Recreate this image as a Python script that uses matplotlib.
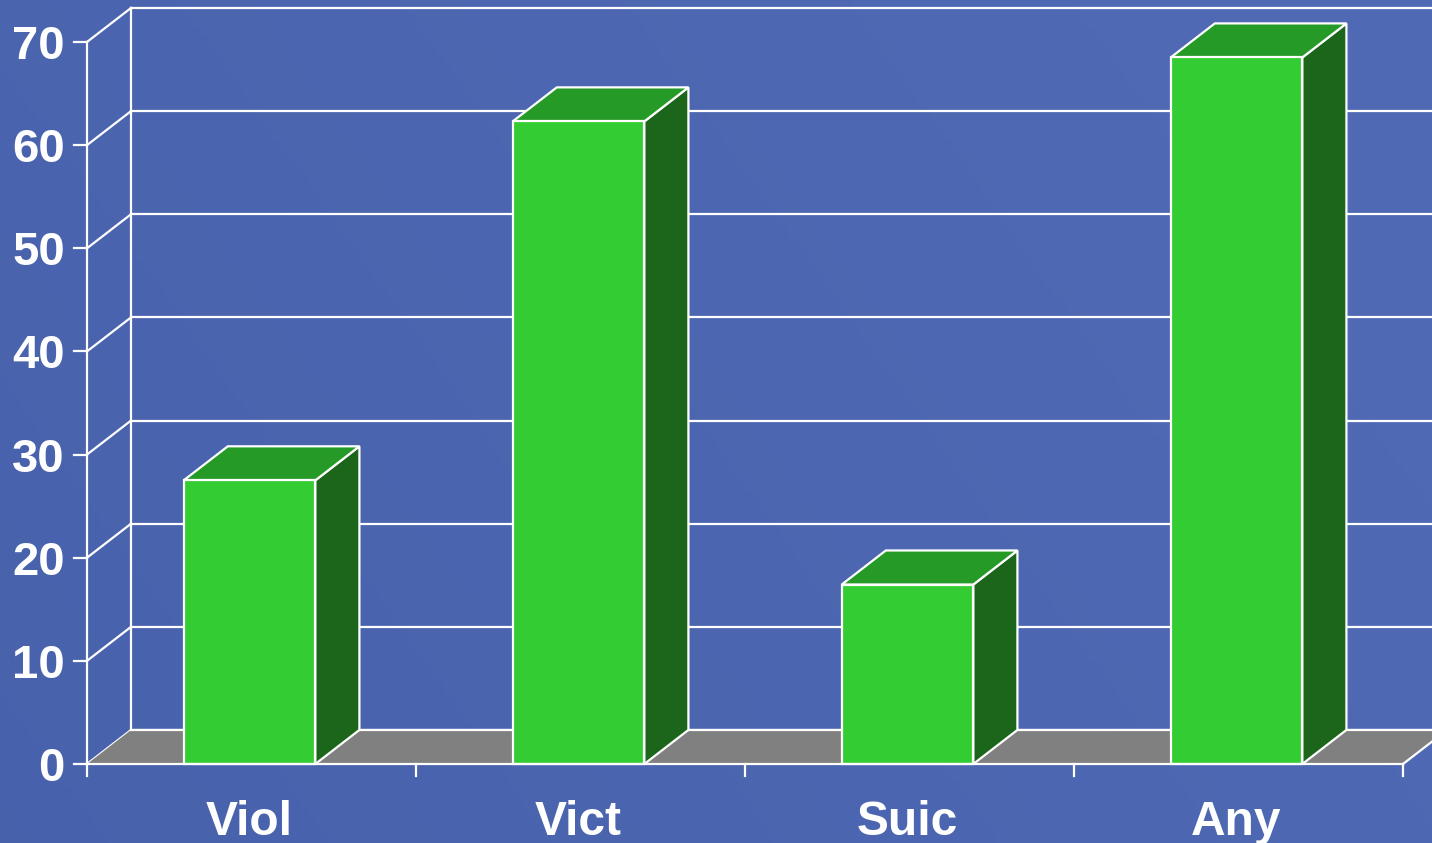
import numpy as np
import matplotlib
matplotlib.use("Agg")
import matplotlib.pyplot as plt
from matplotlib.patches import Polygon

# Data
categories = ["Viol", "Vict", "Suic", "Any"]
values = [27.5, 62.3, 17.4, 68.5]
y_ticks = [0, 10, 20, 30, 40, 50, 60, 70]

# Style
BG = "#4f69b4"
FRONT = "#33cc33"
TOP = "#259a27"
SIDE = "#1c661b"
FLOOR = "#808080"
EDGE = "white"
LW = 1.6
FONT = "Liberation Sans"

# pseudo-3D geometry in data units (1 category = 1 x unit)
DX, DY = 0.134, 3.3
BAR_W = 0.40
YMAX = 70

fig = plt.figure(figsize=(14.32, 8.43), dpi=100)
ax = fig.add_axes([0, 0, 1, 1])
x0, x1 = -0.2644, 4.0881
y0, y1 = -7.66, 74.07
ax.set_xlim(x0, x1)
ax.set_ylim(y0, y1)
ax.axis("off")

# background with a light diagonal shading (darker towards the left)
gx, gy = np.meshgrid(np.linspace(0, 1, 200), np.linspace(0, 1, 120))
shade = np.clip(0.6 * gx + 0.25 * (1 - gy) + 0.3, 0, 1)
base = np.array(matplotlib.colors.to_rgb(BG))
dark = np.array([0.27, 0.37, 0.66])
img = dark[None, None, :] * (1 - shade[..., None]) + base[None, None, :] * shade[..., None]
ax.imshow(img, extent=[x0, x1, y0, y1], aspect="auto", zorder=0, origin="upper")

n = len(categories)

# back wall gridlines, side wall diagonals
for t in y_ticks:
    ax.plot([DX, x1 + 0.1], [t + DY, t + DY], color=EDGE, lw=LW, zorder=1)
    ax.plot([0, DX], [t, t + DY], color=EDGE, lw=LW, zorder=1)
ax.plot([DX, DX], [DY, YMAX + DY], color=EDGE, lw=LW, zorder=1)

# floor
floor = Polygon([(0, 0), (n, 0), (n + DX, DY), (DX, DY)], closed=True,
                facecolor=FLOOR, edgecolor="none", zorder=2)
ax.add_patch(floor)
ax.plot([DX, x1 + 0.1], [DY, DY], color=EDGE, lw=LW, zorder=2.5)
ax.plot([n, n + DX], [0, DY], color=EDGE, lw=LW, zorder=2.5)

# bars
for i, v in enumerate(values):
    left = i + 0.494 - BAR_W / 2
    right = left + BAR_W
    side = Polygon([(right, 0), (right + DX, DY), (right + DX, v + DY), (right, v)],
                   closed=True, facecolor=SIDE, edgecolor=EDGE, lw=LW, zorder=3,
                   joinstyle="miter")
    top = Polygon([(left, v), (right, v), (right + DX, v + DY), (left + DX, v + DY)],
                  closed=True, facecolor=TOP, edgecolor=EDGE, lw=LW, zorder=3,
                  joinstyle="miter")
    front = Polygon([(left, 0), (right, 0), (right, v), (left, v)],
                    closed=True, facecolor=FRONT, edgecolor=EDGE, lw=LW, zorder=4,
                    joinstyle="miter")
    for p in (side, top, front):
        ax.add_patch(p)

# front axes
ax.plot([0, 0], [0, YMAX], color=EDGE, lw=LW, zorder=5)
ax.plot([0, n], [0, 0], color=EDGE, lw=LW, zorder=5)
for t in y_ticks:
    ax.plot([-0.04, 0], [t, t], color=EDGE, lw=LW, zorder=5)
    ax.text(-0.067, t - 1.65, str(t), ha="right", va="baseline", color="white",
            fontsize=34, fontweight="bold", family=FONT, zorder=6)
for i in range(n + 1):
    ax.plot([i, i], [0, -1.2], color=EDGE, lw=LW, zorder=5)

for i, c in enumerate(categories):
    ax.text(i + 0.494, -6.88, c, ha="center", va="baseline", color="white",
            fontsize=34.5, fontweight="bold", family=FONT, zorder=6)

fig.savefig("out.png", dpi=100)
